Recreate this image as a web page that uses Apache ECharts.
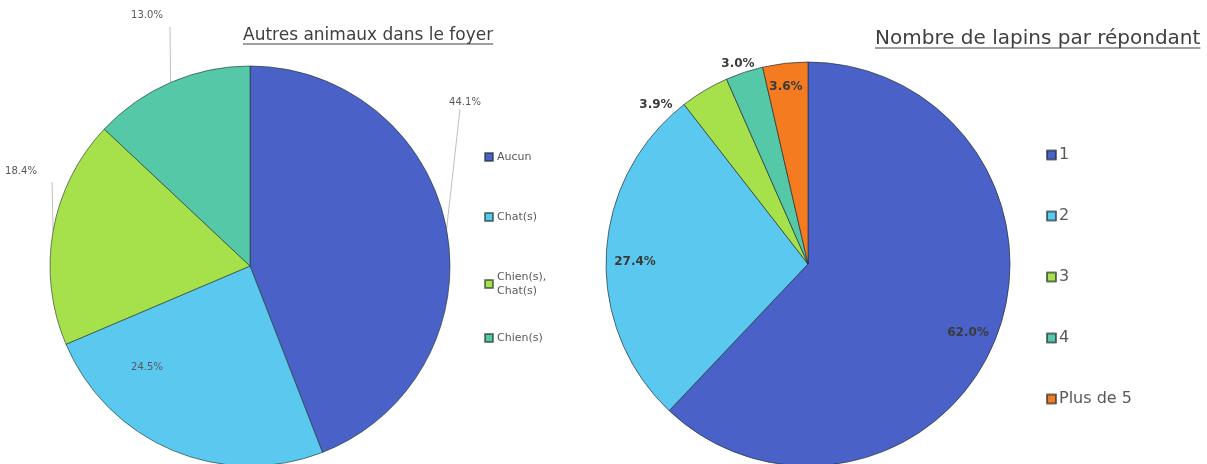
<!DOCTYPE html>
<html><head><meta charset="utf-8">
<script src="https://cdn.jsdelivr.net/npm/echarts@6/dist/echarts.min.js"></script>
<style>html,body{margin:0;padding:0;background:#fff}#c{width:1207px;height:464px}</style>
</head><body><div id="c"></div>
<script>
// ---- data ----
const animalCategories = ['Aucun', 'Chat(s)', 'Chien(s), Chat(s)', 'Chien(s)'];
const animalValues = [44.1, 24.5, 18.4, 13.0];
const rabbitCategories = ['1', '2', '3', '4', 'Plus de 5'];
const rabbitValues = [62.0, 27.4, 3.9, 3.0, 3.6];
const chartTitles = ['Autres animaux dans le foyer', 'Nombre de lapins par répondant'];

// ---- styles ----
const FONT = '"DejaVu Sans", sans-serif';
const COLORS_L = ['#4a62c8', '#5bc8f0', '#a6e04b', '#55c8a8'];
const COLORS_R = ['#4a62c8', '#5bc8f0', '#a6e04b', '#55c8a8', '#f47b20'];
const CENTER_L = [250, 266], R_L = 200;
const CENTER_R = [808, 264], R_R = 202;
// label placements (text positions, Excel-style manually placed)
const POS_L = [
  {x: 465, y: 102, line: [460, 109]},
  {x: 147, y: 367},
  {x: 21, y: 171, line: [52, 182]},
  {x: 147, y: 15, line: [170, 27]}
];
const POS_R = [
  {x: 968, y: 333},
  {x: 635, y: 262},
  {x: 656, y: 105},
  {x: 738, y: 64},
  {x: 786, y: 87}
];

function makeData(names, values, colors) {
  return names.map((n, i) => ({name: n, value: values[i], itemStyle: {color: colors[i]}}));
}
function layoutFn(pos) {
  return function (params) {
    const p = pos[params.dataIndex];
    const o = {x: p.x, y: p.y, align: 'center', verticalAlign: 'middle'};
    if (p.line && params.labelLinePoints) {
      const a = params.labelLinePoints[0];
      o.labelLinePoints = [a, p.line, p.line];
    }
    return o;
  };
}

const chart = echarts.init(document.getElementById('c'), null, {renderer: 'canvas'});

const ctx = document.createElement('canvas').getContext('2d');
function textWidth(t, size) { ctx.font = size + 'px ' + FONT; return ctx.measureText(t).width; }

const TL = {x: 243, y: 36, size: 17};
const TR = {x: 875, y: 39, size: 20};

const legendL = {
  orient: 'vertical', left: 479, itemWidth: 8, itemHeight: 8, icon: 'rect',
  formatter: n => n.replace(', ', ',\n'),
  textStyle: {fontFamily: FONT, fontSize: 11, color: '#595959', lineHeight: 14, padding: [0, 0, 0, -1]},
  selectedMode: false
};
const legendR = {
  orient: 'vertical', left: 1041, top: 141, itemWidth: 9, itemHeight: 9, itemGap: 43, icon: 'rect',
  textStyle: {fontFamily: FONT, fontSize: 16, color: '#595959', lineHeight: 18, padding: [0, 0, 0, -2]},
  selectedMode: false
};

chart.setOption({
  backgroundColor: '#ffffff',
  animation: false,
  legend: [
    Object.assign({}, legendL, {data: animalCategories.slice(0, 2), top: 145, itemGap: 46}),
    Object.assign({}, legendL, {data: animalCategories.slice(2), top: 265, itemGap: 33}),
    Object.assign({}, legendR, {data: rabbitCategories})
  ],
  graphic: [
    {type: 'text', x: TL.x, y: TL.y, style: {text: chartTitles[0], font: TL.size + 'px ' + FONT, fill: '#404040', textVerticalAlign: 'middle'}},
    {type: 'line', shape: {x1: TL.x, y1: TL.y + 8, x2: TL.x + textWidth(chartTitles[0], TL.size), y2: TL.y + 8}, style: {stroke: '#404040', lineWidth: 1}},
    {type: 'text', x: TR.x, y: TR.y, style: {text: chartTitles[1], font: TR.size + 'px ' + FONT, fill: '#404040', textVerticalAlign: 'middle'}},
    {type: 'line', shape: {x1: TR.x, y1: TR.y + 9, x2: TR.x + textWidth(chartTitles[1], TR.size), y2: TR.y + 9}, style: {stroke: '#404040', lineWidth: 1}}
  ],
  series: [
    {
      type: 'pie', center: CENTER_L, radius: R_L, startAngle: 90, clockwise: true,
      avoidLabelOverlap: false,
      data: makeData(animalCategories, animalValues, COLORS_L),
      itemStyle: {borderColor: 'rgba(30,50,40,0.6)', borderWidth: 1},
      label: {show: true, position: 'outside', formatter: p => p.value.toFixed(1) + '%',
        fontFamily: FONT, fontSize: 10, color: '#595959'},
      labelLine: {show: true, length: 0, length2: 0, lineStyle: {color: '#bfbfbf', width: 1}},
      labelLayout: layoutFn(POS_L),
      emphasis: {disabled: true}
    },
    {
      type: 'pie', center: CENTER_R, radius: R_R, startAngle: 90, clockwise: true,
      avoidLabelOverlap: false,
      data: makeData(rabbitCategories, rabbitValues, COLORS_R),
      itemStyle: {borderColor: 'rgba(30,40,50,0.65)', borderWidth: 1},
      label: {show: true, position: 'outside', formatter: p => p.value.toFixed(1) + '%',
        fontFamily: FONT, fontSize: 12, fontWeight: 'bold', color: '#3a3a3a'},
      labelLine: {show: false},
      labelLayout: layoutFn(POS_R),
      emphasis: {disabled: true}
    }
  ]
});
</script></body></html>
